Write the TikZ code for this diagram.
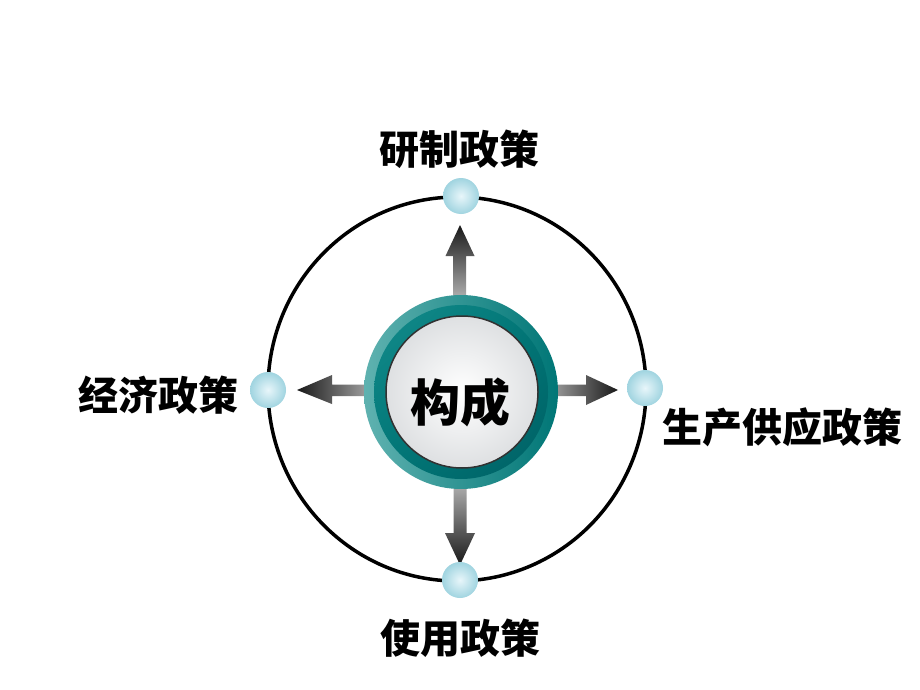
\documentclass[tikz,border=0pt]{standalone}
\usepackage{fontspec}
\newfontfamily\cjk{Noto Sans CJK SC}
\usetikzlibrary{shadings}
\definecolor{ballin}{RGB}{232,246,250}
\definecolor{ballout}{RGB}{160,212,224}
\definecolor{tealA}{RGB}{95,178,176}
\definecolor{tealB}{RGB}{0,118,118}
\definecolor{tealC}{RGB}{20,140,140}
\definecolor{tealD}{RGB}{0,95,100}
\definecolor{arrdark}{RGB}{25,25,25}
\definecolor{arrlight}{RGB}{220,220,220}
\tikzset{
  lbl/.style={font=\cjk\bfseries\fontsize{40}{40}\selectfont, inner sep=0pt},
  ball/.style={circle, minimum size=36pt, inner sep=0pt, inner color=ballin, outer color=ballout},
}
\begin{document}
\begin{tikzpicture}[x=1pt,y=-1pt]
\useasboundingbox[fill=white] (0,0) rectangle (920,690);
% outer ring
\draw[line width=3.5pt] (457,389) ellipse [x radius=189, y radius=192];
% arrows
\shade[top color=arrdark, bottom color=arrlight]
  (460,225) -- (474.5,256) -- (466,256) -- (466,320) -- (453,320) -- (453,256) -- (445.5,256) -- cycle;
\shade[bottom color=arrdark, top color=arrlight]
  (460,565) -- (475,533) -- (466.5,533) -- (466.5,460) -- (453.5,460) -- (453.5,533) -- (445,533) -- cycle;
\shade[left color=arrdark, right color=arrlight]
  (297,390) -- (332,375) -- (332,384.5) -- (400,384.5) -- (400,396) -- (332,396) -- (332,404) -- cycle;
\shade[right color=arrdark, left color=arrlight]
  (618,390) -- (586,375) -- (586,384.5) -- (520,384.5) -- (520,396) -- (586,396) -- (586,405) -- cycle;
% small balls
\node[ball] (top) at (461,196) {};
\node[ball] (bot) at (460,580) {};
\node[ball] (lft) at (268,390) {};
\node[ball] (rgt) at (645,388) {};
% center button
\shade[left color=tealA, right color=tealB] (461,392) circle [radius=97];
\shade[upper left=tealC, upper right=tealB, lower left=tealB, lower right=tealD] (461,392) circle [radius=87];
\shade[inner color=white, outer color={rgb,255:red,222;green,224;blue,226}, draw={rgb,255:red,50;green,50;blue,50}, line width=1.5pt] (462,392) circle [radius=76];
\node[font=\cjk\bfseries\fontsize{50}{50}\selectfont, inner sep=0pt] (c) at (460,402) {构成};
% labels
\node[lbl] (t1) at (459,149) {研制政策};
\node[lbl] (t2) at (158,395) {经济政策};
\node[lbl] (t3) at (782,427) {生产供应政策};
\node[lbl] (t4) at (460,638) {使用政策};
\end{tikzpicture}
\end{document}
